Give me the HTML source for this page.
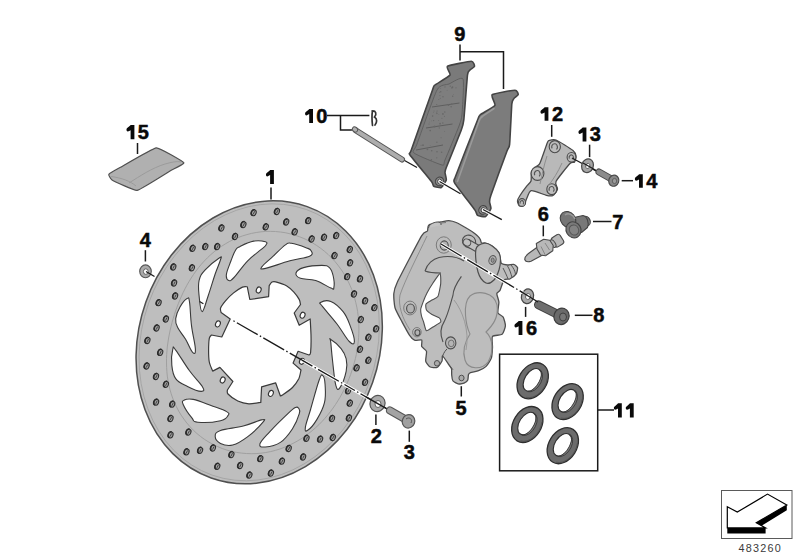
<!DOCTYPE html>
<html><head><meta charset="utf-8"><style>
html,body{margin:0;padding:0;background:#fff;}
svg{display:block;}
text{font-family:"Liberation Sans",sans-serif;font-weight:bold;font-size:20px;fill:#0a0a0a;stroke:#0a0a0a;stroke-width:0.5px;}
</style></head><body>
<svg width="800" height="560" viewBox="0 0 800 560">
<g id="disc">
<ellipse cx="259.2" cy="342.3" rx="120.3" ry="143.9" transform="rotate(19.5 259.2 342.3)" fill="#bebebe" stroke="#505050" stroke-width="1.5"/>
<ellipse cx="259.2" cy="342.3" rx="117.3" ry="140.9" transform="rotate(19.5 259.2 342.3)" fill="none" stroke="#a2a2a2" stroke-width="0.8"/>
<path d="M358.2,342.0 L357.7,346.2 L357.0,350.4 L356.3,354.5 L355.4,358.6 L354.3,362.7 L353.2,366.7 L351.9,370.7 L350.6,374.6 L349.1,378.5 L347.5,382.3 L345.8,386.1 L344.0,389.9 L342.0,393.6 L340.0,397.3 L337.8,400.9 L335.5,404.5 L333.1,408.0 L330.5,411.5 L327.8,414.9 L325.0,418.2 L322.0,421.5 L318.9,424.7 L315.6,427.7 L312.2,430.7 L308.6,433.5 L304.9,436.2 L301.1,438.8 L297.1,441.2 L293.0,443.4 L288.7,445.5 L284.4,447.3 L279.9,449.0 L275.3,450.4 L270.6,451.6 L265.8,452.5 L261.0,453.2 L256.1,453.6 L251.2,453.7 L246.3,453.5 L241.4,453.1 L236.5,452.4 L231.7,451.4 L226.9,450.1 L222.2,448.5 L217.7,446.6 L213.2,444.5 L208.9,442.1 L204.7,439.5 L200.7,436.6 L196.9,433.5 L193.3,430.2 L190.0,426.7 L186.8,423.0 L183.9,419.1 L181.2,415.2 L178.7,411.1 L176.5,406.9 L174.5,402.6 L172.7,398.2 L171.2,393.8 L169.9,389.4 L168.9,385.0 L168.0,380.5 L167.3,376.1 L166.9,371.7 L166.6,367.3 L166.5,363.0 L166.5,358.7 L166.7,354.4 L167.0,350.2 L167.4,346.1 L168.0,342.0 L168.6,338.0 L169.4,334.0 L170.2,330.0 L171.1,326.2 L172.1,322.3 L173.2,318.5 L174.4,314.7 L175.6,310.9 L177.0,307.2 L178.4,303.5 L179.9,299.8 L181.5,296.1 L183.2,292.4 L185.0,288.8 L186.9,285.2 L189.0,281.6 L191.2,278.0 L193.5,274.5 L196.0,271.0 L198.6,267.6 L201.3,264.3 L204.3,261.0 L207.4,257.8 L210.6,254.8 L214.1,251.8 L217.6,249.0 L221.4,246.4 L225.3,243.9 L229.3,241.6 L233.5,239.5 L237.9,237.6 L242.3,236.0 L246.9,234.6 L251.5,233.4 L256.2,232.5 L261.0,231.8 L265.8,231.4 L270.7,231.4 L275.5,231.5 L280.4,232.0 L285.2,232.7 L290.0,233.8 L294.7,235.1 L299.3,236.7 L303.9,238.5 L308.3,240.6 L312.6,242.9 L316.7,245.5 L320.7,248.3 L324.5,251.3 L328.2,254.5 L331.6,257.9 L334.9,261.4 L337.9,265.1 L340.7,268.9 L343.4,272.9 L345.8,276.9 L348.0,281.1 L350.0,285.3 L351.8,289.6 L353.3,293.9 L354.7,298.3 L355.8,302.7 L356.8,307.1 L357.6,311.5 L358.2,316.0 L358.6,320.4 L358.8,324.7 L358.9,329.1 L358.8,333.4 L358.6,337.7 Z" fill="none" stroke="#a0a0a0" stroke-width="1"/>
<path d="M265.4,241.8 C262.9,241.0 258.8,240.2 253.7,241.1 C248.6,242.0 243.7,244.6 240.1,246.4 C236.5,248.2 237.3,247.3 235.5,250.2 C233.7,253.1 232.8,255.9 231.0,260.8 C229.2,265.7 226.9,270.6 226.4,274.5 C225.9,278.4 227.2,279.9 228.7,280.5 C230.2,281.1 230.2,281.4 234.0,277.5 C237.8,273.6 242.2,266.4 247.7,260.8 C253.2,255.2 257.6,252.6 261.3,249.4 C265.0,246.2 265.2,246.5 266.0,245.0 C266.8,243.5 267.9,242.6 265.4,241.8 Z" fill="#fff" stroke="#3a3a3a" stroke-width="1.1"/>
<path d="M219.6,257.8 C222.6,255.8 221.3,256.7 220.4,260.0 C219.5,263.3 217.4,267.4 215.0,274.5 C212.6,281.6 210.8,288.3 208.2,295.7 C205.6,303.1 203.9,311.6 202.1,311.6 C200.3,311.6 199.7,301.9 199.1,295.7 C198.5,289.5 197.9,285.7 199.1,280.5 C200.3,275.3 201.1,274.4 205.2,269.9 C209.3,265.4 216.6,259.8 219.6,257.8 Z" fill="#fff" stroke="#3a3a3a" stroke-width="1.1"/>
<path d="M261.8,266.9 C263.3,264.5 268.5,260.6 273.2,256.2 C277.9,251.8 281.8,247.5 285.4,244.9 C289.0,242.3 287.2,242.7 291.4,243.3 C295.6,243.9 302.6,246.4 306.6,247.9 C310.6,249.4 310.6,249.2 311.2,250.9 C311.8,252.6 313.9,254.2 309.6,256.2 C305.3,258.2 298.7,258.4 289.9,260.8 C281.1,263.2 271.2,267.2 265.6,268.4 C260.0,269.6 260.3,269.3 261.8,266.9 Z" fill="#fff" stroke="#3a3a3a" stroke-width="1.1"/>
<path d="M296.0,273.0 C296.6,270.9 298.4,269.1 303.6,267.6 C308.8,266.1 316.6,265.4 321.8,265.4 C327.0,265.4 327.1,265.5 329.4,267.6 C331.7,269.7 332.3,272.0 333.2,276.0 C334.1,280.0 334.4,285.0 333.9,287.4 C333.4,289.8 334.5,289.5 330.9,288.1 C327.3,286.7 321.8,282.5 315.7,280.5 C309.6,278.5 304.4,279.8 300.5,278.3 C296.6,276.8 295.4,275.1 296.0,273.0 Z" fill="#fff" stroke="#3a3a3a" stroke-width="1.1"/>
<path d="M320.5,302.5 C322.1,301.5 326.3,299.6 330.8,301.4 C335.3,303.2 339.2,306.8 343.1,311.7 C347.0,316.6 348.0,320.1 350.3,326.1 C352.6,332.1 354.6,338.4 354.4,341.5 C354.2,344.6 352.8,345.0 349.3,341.5 C345.8,338.0 342.3,331.0 337.0,324.0 C331.7,317.0 325.9,310.9 322.6,306.6 C319.3,302.3 318.9,303.5 320.5,302.5 Z" fill="#fff" stroke="#3a3a3a" stroke-width="1.1"/>
<path d="M330.8,339.4 C332.9,340.6 338.0,344.7 341.1,348.6 C344.2,352.5 345.2,354.4 346.2,358.9 C347.2,363.4 347.4,365.5 346.2,371.2 C345.0,376.9 342.1,384.7 340.0,387.6 C337.9,390.5 337.3,390.5 335.9,385.6 C334.5,380.7 333.8,371.6 332.8,363.0 C331.8,354.4 331.2,347.2 330.8,342.5 C330.4,337.8 328.7,338.2 330.8,339.4 Z" fill="#fff" stroke="#3a3a3a" stroke-width="1.1"/>
<path d="M322.8,375.6 C324.0,376.5 324.8,379.2 325.1,384.7 C325.4,390.2 326.1,395.9 324.4,402.9 C322.7,409.9 320.1,414.1 316.8,419.6 C313.5,425.1 310.0,428.8 307.7,430.3 C305.4,431.8 304.8,431.5 305.4,427.2 C306.0,422.9 308.0,418.4 310.7,409.0 C313.4,399.6 316.7,386.9 319.1,380.2 C321.5,373.5 321.6,374.7 322.8,375.6 Z" fill="#fff" stroke="#3a3a3a" stroke-width="1.1"/>
<path d="M298.6,408.3 C299.4,409.5 300.5,409.5 299.3,413.6 C298.1,417.7 296.3,422.9 292.5,428.7 C288.7,434.5 285.9,438.7 280.4,442.4 C274.9,446.1 269.3,446.7 265.2,447.0 C261.1,447.3 259.0,446.9 259.9,443.9 C260.8,440.9 264.1,437.9 269.7,431.8 C275.3,425.7 282.7,418.5 287.9,413.6 C293.1,408.7 293.4,408.6 295.5,407.5 C297.6,406.4 297.8,407.1 298.6,408.3 Z" fill="#fff" stroke="#3a3a3a" stroke-width="1.1"/>
<path d="M215.2,436.6 C215.2,434.0 214.9,432.6 220.5,430.5 C226.1,428.4 235.1,428.1 243.3,426.0 C251.5,423.9 257.6,420.7 261.5,419.9 C265.4,419.1 265.7,418.9 263.0,422.2 C260.3,425.5 253.9,432.0 247.8,436.6 C241.7,441.2 238.2,443.6 232.7,445.0 C227.2,446.4 224.0,445.1 220.5,443.4 C217.0,441.7 215.2,439.2 215.2,436.6 Z" fill="#fff" stroke="#3a3a3a" stroke-width="1.1"/>
<path d="M184.1,400.2 C186.1,399.1 187.4,398.2 193.2,399.4 C199.0,400.6 206.2,403.8 212.9,406.2 C219.6,408.6 223.6,409.8 226.6,411.6 C229.6,413.4 229.3,413.6 228.1,415.4 C226.9,417.2 226.6,419.3 220.5,420.7 C214.4,422.1 203.6,422.8 197.8,422.2 C192.0,421.6 194.6,421.1 191.7,417.6 C188.8,414.1 184.8,408.2 183.3,404.7 C181.8,401.2 182.1,401.3 184.1,400.2 Z" fill="#fff" stroke="#3a3a3a" stroke-width="1.1"/>
<path d="M172.8,349.2 C172.0,352.2 171.2,359.0 171.8,364.9 C172.4,370.8 172.6,374.3 175.7,378.6 C178.8,382.9 182.4,383.9 187.5,386.5 C192.6,389.1 198.3,391.4 201.3,391.4 C204.3,391.4 204.7,390.6 202.3,386.5 C199.9,382.4 194.8,378.1 189.5,370.8 C184.2,363.5 179.0,354.4 175.7,350.1 C172.4,345.8 173.6,346.2 172.8,349.2 Z" fill="#fff" stroke="#3a3a3a" stroke-width="1.1"/>
<path d="M187.1,298.6 C185.2,299.6 182.3,303.1 180.0,307.1 C177.7,311.1 176.2,314.5 175.7,318.6 C175.2,322.7 175.7,323.4 177.7,327.5 C179.7,331.6 182.7,334.4 185.6,339.3 C188.5,344.2 190.4,350.1 192.4,352.1 C194.4,354.1 195.6,354.5 195.4,349.2 C195.2,343.9 192.7,335.0 191.5,325.6 C190.3,316.2 190.4,307.4 189.5,302.0 C188.6,296.6 189.0,297.6 187.1,298.6 Z" fill="#fff" stroke="#3a3a3a" stroke-width="1.1"/>
<path d="M221.1,312.5 C221.0,311.9 220.0,309.5 220.6,308.0 C221.2,306.5 223.8,302.9 225.5,300.9 C227.2,298.9 231.3,294.7 233.6,292.9 C235.9,291.1 240.7,287.9 242.5,287.1 C244.3,286.3 246.7,286.8 247.3,286.8 L249.8,299.5 L268.6,296.6 L269.2,285.5 C269.6,285.0 271.1,282.5 272.0,282.0 C272.9,281.5 273.8,281.3 275.7,281.8 C277.6,282.3 284.0,284.3 286.4,285.7 C288.8,287.1 292.2,290.2 293.9,292.1 C295.6,294.0 298.4,297.9 299.3,299.6 C300.2,301.3 300.3,303.8 300.5,304.5 L294.2,313.0 L299.2,325.3 L310.2,319.0 C310.3,321.1 310.9,330.5 311.0,335.0 C311.1,339.5 310.9,349.8 310.6,352.5 C310.3,355.2 309.2,354.7 309.0,355.0 L298.1,351.3 L293.1,363.1 L301.0,370.0 C300.7,371.2 299.9,376.4 298.8,378.8 C297.6,381.1 294.7,385.3 292.5,387.5 C290.3,389.7 284.1,393.9 282.5,395.0 C280.9,396.1 280.7,395.9 280.4,396.0 L275.6,382.8 L261.6,386.8 L260.8,402.4 C259.2,402.6 252.0,404.0 248.9,403.8 C245.8,403.6 240.6,402.3 237.8,401.0 C235.0,399.7 229.4,395.5 228.0,394.0 C226.6,392.5 227.5,390.5 227.4,390.0 L232.9,381.5 L219.9,367.4 L212.7,371.1 C212.2,369.9 209.8,364.7 209.3,362.0 C208.8,359.3 208.6,354.0 208.6,350.9 C208.6,347.8 208.9,340.5 209.3,338.4 C209.7,336.3 211.1,335.5 211.4,335.0 L221.8,337.0 L230.2,319.0 L221.1,312.5 Z" fill="#fff" stroke="#3a3a3a" stroke-width="1.2" stroke-linejoin="round"/>
<ellipse cx="258.7" cy="290" rx="2.3" ry="3.1" transform="rotate(25 258.7 290)" fill="#fff" stroke="#333" stroke-width="1.1"/>
<ellipse cx="302.6" cy="315.2" rx="2.3" ry="3.1" transform="rotate(25 302.6 315.2)" fill="#fff" stroke="#333" stroke-width="1.1"/>
<ellipse cx="301.9" cy="361.3" rx="2.3" ry="3.1" transform="rotate(25 301.9 361.3)" fill="#fff" stroke="#333" stroke-width="1.1"/>
<ellipse cx="270.9" cy="393.4" rx="2.3" ry="3.1" transform="rotate(25 270.9 393.4)" fill="#fff" stroke="#333" stroke-width="1.1"/>
<ellipse cx="222.7" cy="380" rx="2.3" ry="3.1" transform="rotate(25 222.7 380)" fill="#fff" stroke="#333" stroke-width="1.1"/>
<ellipse cx="217.9" cy="323.9" rx="2.3" ry="3.1" transform="rotate(25 217.9 323.9)" fill="#fff" stroke="#333" stroke-width="1.1"/>
<ellipse cx="253.7" cy="212.7" rx="2.4" ry="3.1" transform="rotate(20 253.7 212.7)" fill="#a0a0a0" stroke="#2e2e2e" stroke-width="1.05"/>
<path d="M254.8,209.8 A2.4,3.1 20 0 0 252.6,215.6" fill="none" stroke="#2a2a2a" stroke-width="1.5"/><path d="M253.2,214.3 L254.7,211.2" stroke="#3a3a3a" stroke-width="0.9"/>
<ellipse cx="277" cy="211.5" rx="2.4" ry="3.1" transform="rotate(20 277 211.5)" fill="#a0a0a0" stroke="#2e2e2e" stroke-width="1.05"/>
<path d="M278.1,208.6 A2.4,3.1 20 0 0 275.9,214.4" fill="none" stroke="#2a2a2a" stroke-width="1.5"/><path d="M276.5,213.1 L278.0,210.0" stroke="#3a3a3a" stroke-width="0.9"/>
<ellipse cx="243.5" cy="224.6" rx="2.4" ry="3.1" transform="rotate(20 243.5 224.6)" fill="#a0a0a0" stroke="#2e2e2e" stroke-width="1.05"/>
<path d="M244.6,221.7 A2.4,3.1 20 0 0 242.4,227.5" fill="none" stroke="#2a2a2a" stroke-width="1.5"/><path d="M243.0,226.2 L244.5,223.1" stroke="#3a3a3a" stroke-width="0.9"/>
<ellipse cx="221.5" cy="228" rx="2.4" ry="3.1" transform="rotate(20 221.5 228)" fill="#a0a0a0" stroke="#2e2e2e" stroke-width="1.05"/>
<path d="M222.6,225.1 A2.4,3.1 20 0 0 220.4,230.9" fill="none" stroke="#2a2a2a" stroke-width="1.5"/><path d="M221.0,229.6 L222.5,226.5" stroke="#3a3a3a" stroke-width="0.9"/>
<ellipse cx="265.9" cy="226.8" rx="2.4" ry="3.1" transform="rotate(20 265.9 226.8)" fill="#a0a0a0" stroke="#2e2e2e" stroke-width="1.05"/>
<path d="M267.0,223.9 A2.4,3.1 20 0 0 264.8,229.7" fill="none" stroke="#2a2a2a" stroke-width="1.5"/><path d="M265.4,228.4 L266.9,225.3" stroke="#3a3a3a" stroke-width="0.9"/>
<ellipse cx="286.3" cy="222" rx="2.4" ry="3.1" transform="rotate(20 286.3 222)" fill="#a0a0a0" stroke="#2e2e2e" stroke-width="1.05"/>
<path d="M287.4,219.1 A2.4,3.1 20 0 0 285.2,224.9" fill="none" stroke="#2a2a2a" stroke-width="1.5"/><path d="M285.8,223.6 L287.3,220.5" stroke="#3a3a3a" stroke-width="0.9"/>
<ellipse cx="308.3" cy="220.7" rx="2.4" ry="3.1" transform="rotate(20 308.3 220.7)" fill="#a0a0a0" stroke="#2e2e2e" stroke-width="1.05"/>
<path d="M309.4,217.8 A2.4,3.1 20 0 0 307.2,223.6" fill="none" stroke="#2a2a2a" stroke-width="1.5"/><path d="M307.8,222.3 L309.3,219.2" stroke="#3a3a3a" stroke-width="0.9"/>
<ellipse cx="235.1" cy="236.5" rx="2.4" ry="3.1" transform="rotate(20 235.1 236.5)" fill="#a0a0a0" stroke="#2e2e2e" stroke-width="1.05"/>
<path d="M236.2,233.6 A2.4,3.1 20 0 0 234.0,239.4" fill="none" stroke="#2a2a2a" stroke-width="1.5"/><path d="M234.6,238.1 L236.1,235.0" stroke="#3a3a3a" stroke-width="0.9"/>
<ellipse cx="294.8" cy="231.9" rx="2.4" ry="3.1" transform="rotate(20 294.8 231.9)" fill="#a0a0a0" stroke="#2e2e2e" stroke-width="1.05"/>
<path d="M295.9,229.0 A2.4,3.1 20 0 0 293.7,234.8" fill="none" stroke="#2a2a2a" stroke-width="1.5"/><path d="M294.3,233.5 L295.8,230.4" stroke="#3a3a3a" stroke-width="0.9"/>
<ellipse cx="311.7" cy="239" rx="2.4" ry="3.1" transform="rotate(20 311.7 239)" fill="#a0a0a0" stroke="#2e2e2e" stroke-width="1.05"/>
<path d="M312.8,236.1 A2.4,3.1 20 0 0 310.6,241.9" fill="none" stroke="#2a2a2a" stroke-width="1.5"/><path d="M311.2,240.6 L312.7,237.5" stroke="#3a3a3a" stroke-width="0.9"/>
<ellipse cx="324.1" cy="237.3" rx="2.4" ry="3.1" transform="rotate(20 324.1 237.3)" fill="#a0a0a0" stroke="#2e2e2e" stroke-width="1.05"/>
<path d="M325.2,234.4 A2.4,3.1 20 0 0 323.0,240.2" fill="none" stroke="#2a2a2a" stroke-width="1.5"/><path d="M323.6,238.9 L325.1,235.8" stroke="#3a3a3a" stroke-width="0.9"/>
<ellipse cx="336.3" cy="235.6" rx="2.4" ry="3.1" transform="rotate(20 336.3 235.6)" fill="#a0a0a0" stroke="#2e2e2e" stroke-width="1.05"/>
<path d="M337.4,232.7 A2.4,3.1 20 0 0 335.2,238.5" fill="none" stroke="#2a2a2a" stroke-width="1.5"/><path d="M335.8,237.2 L337.3,234.1" stroke="#3a3a3a" stroke-width="0.9"/>
<ellipse cx="192.7" cy="248.3" rx="2.4" ry="3.1" transform="rotate(20 192.7 248.3)" fill="#a0a0a0" stroke="#2e2e2e" stroke-width="1.05"/>
<path d="M193.8,245.4 A2.4,3.1 20 0 0 191.6,251.2" fill="none" stroke="#2a2a2a" stroke-width="1.5"/><path d="M192.2,249.9 L193.7,246.8" stroke="#3a3a3a" stroke-width="0.9"/>
<ellipse cx="205.4" cy="246.6" rx="2.4" ry="3.1" transform="rotate(20 205.4 246.6)" fill="#a0a0a0" stroke="#2e2e2e" stroke-width="1.05"/>
<path d="M206.5,243.7 A2.4,3.1 20 0 0 204.3,249.5" fill="none" stroke="#2a2a2a" stroke-width="1.5"/><path d="M204.9,248.2 L206.4,245.1" stroke="#3a3a3a" stroke-width="0.9"/>
<ellipse cx="217.3" cy="246.6" rx="2.4" ry="3.1" transform="rotate(20 217.3 246.6)" fill="#a0a0a0" stroke="#2e2e2e" stroke-width="1.05"/>
<path d="M218.4,243.7 A2.4,3.1 20 0 0 216.2,249.5" fill="none" stroke="#2a2a2a" stroke-width="1.5"/><path d="M216.8,248.2 L218.3,245.1" stroke="#3a3a3a" stroke-width="0.9"/>
<ellipse cx="349.9" cy="249.5" rx="2.4" ry="3.1" transform="rotate(20 349.9 249.5)" fill="#a0a0a0" stroke="#2e2e2e" stroke-width="1.05"/>
<path d="M351.0,246.6 A2.4,3.1 20 0 0 348.8,252.4" fill="none" stroke="#2a2a2a" stroke-width="1.5"/><path d="M349.4,251.1 L350.9,248.0" stroke="#3a3a3a" stroke-width="0.9"/>
<ellipse cx="334.6" cy="255.6" rx="2.4" ry="3.1" transform="rotate(20 334.6 255.6)" fill="#a0a0a0" stroke="#2e2e2e" stroke-width="1.05"/>
<path d="M335.7,252.7 A2.4,3.1 20 0 0 333.5,258.5" fill="none" stroke="#2a2a2a" stroke-width="1.5"/><path d="M334.1,257.2 L335.6,254.1" stroke="#3a3a3a" stroke-width="0.9"/>
<ellipse cx="350.2" cy="262.8" rx="2.4" ry="3.1" transform="rotate(20 350.2 262.8)" fill="#a0a0a0" stroke="#2e2e2e" stroke-width="1.05"/>
<path d="M351.3,259.9 A2.4,3.1 20 0 0 349.1,265.7" fill="none" stroke="#2a2a2a" stroke-width="1.5"/><path d="M349.7,264.4 L351.2,261.3" stroke="#3a3a3a" stroke-width="0.9"/>
<ellipse cx="347.3" cy="276.7" rx="2.4" ry="3.1" transform="rotate(20 347.3 276.7)" fill="#a0a0a0" stroke="#2e2e2e" stroke-width="1.05"/>
<path d="M348.4,273.8 A2.4,3.1 20 0 0 346.2,279.6" fill="none" stroke="#2a2a2a" stroke-width="1.5"/><path d="M346.8,278.3 L348.3,275.2" stroke="#3a3a3a" stroke-width="0.9"/>
<ellipse cx="360.1" cy="278.9" rx="2.4" ry="3.1" transform="rotate(20 360.1 278.9)" fill="#a0a0a0" stroke="#2e2e2e" stroke-width="1.05"/>
<path d="M361.2,276.0 A2.4,3.1 20 0 0 359.0,281.8" fill="none" stroke="#2a2a2a" stroke-width="1.5"/><path d="M359.6,280.5 L361.1,277.4" stroke="#3a3a3a" stroke-width="0.9"/>
<ellipse cx="354.1" cy="294" rx="2.4" ry="3.1" transform="rotate(20 354.1 294)" fill="#a0a0a0" stroke="#2e2e2e" stroke-width="1.05"/>
<path d="M355.2,291.1 A2.4,3.1 20 0 0 353.0,296.9" fill="none" stroke="#2a2a2a" stroke-width="1.5"/><path d="M353.6,295.6 L355.1,292.5" stroke="#3a3a3a" stroke-width="0.9"/>
<ellipse cx="173.4" cy="267" rx="2.4" ry="3.1" transform="rotate(20 173.4 267)" fill="#a0a0a0" stroke="#2e2e2e" stroke-width="1.05"/>
<path d="M174.5,264.1 A2.4,3.1 20 0 0 172.3,269.9" fill="none" stroke="#2a2a2a" stroke-width="1.5"/><path d="M172.9,268.6 L174.4,265.5" stroke="#3a3a3a" stroke-width="0.9"/>
<ellipse cx="192" cy="267.8" rx="2.4" ry="3.1" transform="rotate(20 192 267.8)" fill="#a0a0a0" stroke="#2e2e2e" stroke-width="1.05"/>
<path d="M193.1,264.9 A2.4,3.1 20 0 0 190.9,270.7" fill="none" stroke="#2a2a2a" stroke-width="1.5"/><path d="M191.5,269.4 L193.0,266.3" stroke="#3a3a3a" stroke-width="0.9"/>
<ellipse cx="174.2" cy="283" rx="2.4" ry="3.1" transform="rotate(20 174.2 283)" fill="#a0a0a0" stroke="#2e2e2e" stroke-width="1.05"/>
<path d="M175.3,280.1 A2.4,3.1 20 0 0 173.1,285.9" fill="none" stroke="#2a2a2a" stroke-width="1.5"/><path d="M173.7,284.6 L175.2,281.5" stroke="#3a3a3a" stroke-width="0.9"/>
<ellipse cx="175.2" cy="296" rx="2.4" ry="3.1" transform="rotate(20 175.2 296)" fill="#a0a0a0" stroke="#2e2e2e" stroke-width="1.05"/>
<path d="M176.3,293.1 A2.4,3.1 20 0 0 174.1,298.9" fill="none" stroke="#2a2a2a" stroke-width="1.5"/><path d="M174.7,297.6 L176.2,294.5" stroke="#3a3a3a" stroke-width="0.9"/>
<ellipse cx="158.7" cy="302.7" rx="2.4" ry="3.1" transform="rotate(20 158.7 302.7)" fill="#a0a0a0" stroke="#2e2e2e" stroke-width="1.05"/>
<path d="M159.8,299.8 A2.4,3.1 20 0 0 157.6,305.6" fill="none" stroke="#2a2a2a" stroke-width="1.5"/><path d="M158.2,304.3 L159.7,301.2" stroke="#3a3a3a" stroke-width="0.9"/>
<ellipse cx="166" cy="319" rx="2.4" ry="3.1" transform="rotate(20 166 319)" fill="#a0a0a0" stroke="#2e2e2e" stroke-width="1.05"/>
<path d="M167.1,316.1 A2.4,3.1 20 0 0 164.9,321.9" fill="none" stroke="#2a2a2a" stroke-width="1.5"/><path d="M165.5,320.6 L167.0,317.5" stroke="#3a3a3a" stroke-width="0.9"/>
<ellipse cx="156.7" cy="328" rx="2.4" ry="3.1" transform="rotate(20 156.7 328)" fill="#a0a0a0" stroke="#2e2e2e" stroke-width="1.05"/>
<path d="M157.8,325.1 A2.4,3.1 20 0 0 155.6,330.9" fill="none" stroke="#2a2a2a" stroke-width="1.5"/><path d="M156.2,329.6 L157.7,326.5" stroke="#3a3a3a" stroke-width="0.9"/>
<ellipse cx="147.5" cy="340.5" rx="2.4" ry="3.1" transform="rotate(20 147.5 340.5)" fill="#a0a0a0" stroke="#2e2e2e" stroke-width="1.05"/>
<path d="M148.6,337.6 A2.4,3.1 20 0 0 146.4,343.4" fill="none" stroke="#2a2a2a" stroke-width="1.5"/><path d="M147.0,342.1 L148.5,339.0" stroke="#3a3a3a" stroke-width="0.9"/>
<ellipse cx="160.3" cy="352.4" rx="2.4" ry="3.1" transform="rotate(20 160.3 352.4)" fill="#a0a0a0" stroke="#2e2e2e" stroke-width="1.05"/>
<path d="M161.4,349.5 A2.4,3.1 20 0 0 159.2,355.3" fill="none" stroke="#2a2a2a" stroke-width="1.5"/><path d="M159.8,354.0 L161.3,350.9" stroke="#3a3a3a" stroke-width="0.9"/>
<ellipse cx="146.7" cy="366" rx="2.4" ry="3.1" transform="rotate(20 146.7 366)" fill="#a0a0a0" stroke="#2e2e2e" stroke-width="1.05"/>
<path d="M147.8,363.1 A2.4,3.1 20 0 0 145.6,368.9" fill="none" stroke="#2a2a2a" stroke-width="1.5"/><path d="M146.2,367.6 L147.7,364.5" stroke="#3a3a3a" stroke-width="0.9"/>
<ellipse cx="156.1" cy="376.5" rx="2.4" ry="3.1" transform="rotate(20 156.1 376.5)" fill="#a0a0a0" stroke="#2e2e2e" stroke-width="1.05"/>
<path d="M157.2,373.6 A2.4,3.1 20 0 0 155.0,379.4" fill="none" stroke="#2a2a2a" stroke-width="1.5"/><path d="M155.6,378.1 L157.1,375.0" stroke="#3a3a3a" stroke-width="0.9"/>
<ellipse cx="166" cy="384.3" rx="2.4" ry="3.1" transform="rotate(20 166 384.3)" fill="#a0a0a0" stroke="#2e2e2e" stroke-width="1.05"/>
<path d="M167.1,381.4 A2.4,3.1 20 0 0 164.9,387.2" fill="none" stroke="#2a2a2a" stroke-width="1.5"/><path d="M165.5,385.9 L167.0,382.8" stroke="#3a3a3a" stroke-width="0.9"/>
<ellipse cx="156.2" cy="402.2" rx="2.4" ry="3.1" transform="rotate(20 156.2 402.2)" fill="#a0a0a0" stroke="#2e2e2e" stroke-width="1.05"/>
<path d="M157.3,399.3 A2.4,3.1 20 0 0 155.1,405.1" fill="none" stroke="#2a2a2a" stroke-width="1.5"/><path d="M155.7,403.8 L157.2,400.7" stroke="#3a3a3a" stroke-width="0.9"/>
<ellipse cx="172.3" cy="404.2" rx="2.4" ry="3.1" transform="rotate(20 172.3 404.2)" fill="#a0a0a0" stroke="#2e2e2e" stroke-width="1.05"/>
<path d="M173.4,401.3 A2.4,3.1 20 0 0 171.2,407.1" fill="none" stroke="#2a2a2a" stroke-width="1.5"/><path d="M171.8,405.8 L173.3,402.7" stroke="#3a3a3a" stroke-width="0.9"/>
<ellipse cx="170.6" cy="418.5" rx="2.4" ry="3.1" transform="rotate(20 170.6 418.5)" fill="#a0a0a0" stroke="#2e2e2e" stroke-width="1.05"/>
<path d="M171.7,415.6 A2.4,3.1 20 0 0 169.5,421.4" fill="none" stroke="#2a2a2a" stroke-width="1.5"/><path d="M170.1,420.1 L171.6,417.0" stroke="#3a3a3a" stroke-width="0.9"/>
<ellipse cx="170.6" cy="434.9" rx="2.4" ry="3.1" transform="rotate(20 170.6 434.9)" fill="#a0a0a0" stroke="#2e2e2e" stroke-width="1.05"/>
<path d="M171.7,432.0 A2.4,3.1 20 0 0 169.5,437.8" fill="none" stroke="#2a2a2a" stroke-width="1.5"/><path d="M170.1,436.5 L171.6,433.4" stroke="#3a3a3a" stroke-width="0.9"/>
<ellipse cx="188.5" cy="432.1" rx="2.4" ry="3.1" transform="rotate(20 188.5 432.1)" fill="#a0a0a0" stroke="#2e2e2e" stroke-width="1.05"/>
<path d="M189.6,429.2 A2.4,3.1 20 0 0 187.4,435.0" fill="none" stroke="#2a2a2a" stroke-width="1.5"/><path d="M188.0,433.7 L189.5,430.6" stroke="#3a3a3a" stroke-width="0.9"/>
<ellipse cx="186.6" cy="451.9" rx="2.4" ry="3.1" transform="rotate(20 186.6 451.9)" fill="#a0a0a0" stroke="#2e2e2e" stroke-width="1.05"/>
<path d="M187.7,449.0 A2.4,3.1 20 0 0 185.5,454.8" fill="none" stroke="#2a2a2a" stroke-width="1.5"/><path d="M186.1,453.5 L187.6,450.4" stroke="#3a3a3a" stroke-width="0.9"/>
<ellipse cx="200.2" cy="450.3" rx="2.4" ry="3.1" transform="rotate(20 200.2 450.3)" fill="#a0a0a0" stroke="#2e2e2e" stroke-width="1.05"/>
<path d="M201.3,447.4 A2.4,3.1 20 0 0 199.1,453.2" fill="none" stroke="#2a2a2a" stroke-width="1.5"/><path d="M199.7,451.9 L201.2,448.8" stroke="#3a3a3a" stroke-width="0.9"/>
<ellipse cx="213" cy="448" rx="2.4" ry="3.1" transform="rotate(20 213 448)" fill="#a0a0a0" stroke="#2e2e2e" stroke-width="1.05"/>
<path d="M214.1,445.1 A2.4,3.1 20 0 0 211.9,450.9" fill="none" stroke="#2a2a2a" stroke-width="1.5"/><path d="M212.5,449.6 L214.0,446.5" stroke="#3a3a3a" stroke-width="0.9"/>
<ellipse cx="231.5" cy="454.6" rx="2.4" ry="3.1" transform="rotate(20 231.5 454.6)" fill="#a0a0a0" stroke="#2e2e2e" stroke-width="1.05"/>
<path d="M232.6,451.7 A2.4,3.1 20 0 0 230.4,457.5" fill="none" stroke="#2a2a2a" stroke-width="1.5"/><path d="M231.0,456.2 L232.5,453.1" stroke="#3a3a3a" stroke-width="0.9"/>
<ellipse cx="217.4" cy="466.3" rx="2.4" ry="3.1" transform="rotate(20 217.4 466.3)" fill="#a0a0a0" stroke="#2e2e2e" stroke-width="1.05"/>
<path d="M218.5,463.4 A2.4,3.1 20 0 0 216.3,469.2" fill="none" stroke="#2a2a2a" stroke-width="1.5"/><path d="M216.9,467.9 L218.4,464.8" stroke="#3a3a3a" stroke-width="0.9"/>
<ellipse cx="240.2" cy="465.5" rx="2.4" ry="3.1" transform="rotate(20 240.2 465.5)" fill="#a0a0a0" stroke="#2e2e2e" stroke-width="1.05"/>
<path d="M241.3,462.6 A2.4,3.1 20 0 0 239.1,468.4" fill="none" stroke="#2a2a2a" stroke-width="1.5"/><path d="M239.7,467.1 L241.2,464.0" stroke="#3a3a3a" stroke-width="0.9"/>
<ellipse cx="249.5" cy="475.1" rx="2.4" ry="3.1" transform="rotate(20 249.5 475.1)" fill="#a0a0a0" stroke="#2e2e2e" stroke-width="1.05"/>
<path d="M250.6,472.2 A2.4,3.1 20 0 0 248.4,478.0" fill="none" stroke="#2a2a2a" stroke-width="1.5"/><path d="M249.0,476.7 L250.5,473.6" stroke="#3a3a3a" stroke-width="0.9"/>
<ellipse cx="260.4" cy="458.7" rx="2.4" ry="3.1" transform="rotate(20 260.4 458.7)" fill="#a0a0a0" stroke="#2e2e2e" stroke-width="1.05"/>
<path d="M261.5,455.8 A2.4,3.1 20 0 0 259.3,461.6" fill="none" stroke="#2a2a2a" stroke-width="1.5"/><path d="M259.9,460.3 L261.4,457.2" stroke="#3a3a3a" stroke-width="0.9"/>
<ellipse cx="348.2" cy="390.8" rx="2.4" ry="3.1" transform="rotate(20 348.2 390.8)" fill="#a0a0a0" stroke="#2e2e2e" stroke-width="1.05"/>
<path d="M349.3,387.9 A2.4,3.1 20 0 0 347.1,393.7" fill="none" stroke="#2a2a2a" stroke-width="1.5"/><path d="M347.7,392.4 L349.2,389.3" stroke="#3a3a3a" stroke-width="0.9"/>
<ellipse cx="349.9" cy="403.2" rx="2.4" ry="3.1" transform="rotate(20 349.9 403.2)" fill="#a0a0a0" stroke="#2e2e2e" stroke-width="1.05"/>
<path d="M351.0,400.3 A2.4,3.1 20 0 0 348.8,406.1" fill="none" stroke="#2a2a2a" stroke-width="1.5"/><path d="M349.4,404.8 L350.9,401.7" stroke="#3a3a3a" stroke-width="0.9"/>
<ellipse cx="332.1" cy="418.5" rx="2.4" ry="3.1" transform="rotate(20 332.1 418.5)" fill="#a0a0a0" stroke="#2e2e2e" stroke-width="1.05"/>
<path d="M333.2,415.6 A2.4,3.1 20 0 0 331.0,421.4" fill="none" stroke="#2a2a2a" stroke-width="1.5"/><path d="M331.6,420.1 L333.1,417.0" stroke="#3a3a3a" stroke-width="0.9"/>
<ellipse cx="349" cy="418" rx="2.4" ry="3.1" transform="rotate(20 349 418)" fill="#a0a0a0" stroke="#2e2e2e" stroke-width="1.05"/>
<path d="M350.1,415.1 A2.4,3.1 20 0 0 347.9,420.9" fill="none" stroke="#2a2a2a" stroke-width="1.5"/><path d="M348.5,419.6 L350.0,416.5" stroke="#3a3a3a" stroke-width="0.9"/>
<ellipse cx="306.6" cy="438.3" rx="2.4" ry="3.1" transform="rotate(20 306.6 438.3)" fill="#a0a0a0" stroke="#2e2e2e" stroke-width="1.05"/>
<path d="M307.7,435.4 A2.4,3.1 20 0 0 305.5,441.2" fill="none" stroke="#2a2a2a" stroke-width="1.5"/><path d="M306.1,439.9 L307.6,436.8" stroke="#3a3a3a" stroke-width="0.9"/>
<ellipse cx="320.2" cy="439.2" rx="2.4" ry="3.1" transform="rotate(20 320.2 439.2)" fill="#a0a0a0" stroke="#2e2e2e" stroke-width="1.05"/>
<path d="M321.3,436.3 A2.4,3.1 20 0 0 319.1,442.1" fill="none" stroke="#2a2a2a" stroke-width="1.5"/><path d="M319.7,440.8 L321.2,437.7" stroke="#3a3a3a" stroke-width="0.9"/>
<ellipse cx="332.9" cy="437.5" rx="2.4" ry="3.1" transform="rotate(20 332.9 437.5)" fill="#a0a0a0" stroke="#2e2e2e" stroke-width="1.05"/>
<path d="M334.0,434.6 A2.4,3.1 20 0 0 331.8,440.4" fill="none" stroke="#2a2a2a" stroke-width="1.5"/><path d="M332.4,439.1 L333.9,436.0" stroke="#3a3a3a" stroke-width="0.9"/>
<ellipse cx="288.8" cy="448.5" rx="2.4" ry="3.1" transform="rotate(20 288.8 448.5)" fill="#a0a0a0" stroke="#2e2e2e" stroke-width="1.05"/>
<path d="M289.9,445.6 A2.4,3.1 20 0 0 287.7,451.4" fill="none" stroke="#2a2a2a" stroke-width="1.5"/><path d="M288.3,450.1 L289.8,447.0" stroke="#3a3a3a" stroke-width="0.9"/>
<ellipse cx="303.2" cy="457" rx="2.4" ry="3.1" transform="rotate(20 303.2 457)" fill="#a0a0a0" stroke="#2e2e2e" stroke-width="1.05"/>
<path d="M304.3,454.1 A2.4,3.1 20 0 0 302.1,459.9" fill="none" stroke="#2a2a2a" stroke-width="1.5"/><path d="M302.7,458.6 L304.2,455.5" stroke="#3a3a3a" stroke-width="0.9"/>
<ellipse cx="282" cy="461.2" rx="2.4" ry="3.1" transform="rotate(20 282 461.2)" fill="#a0a0a0" stroke="#2e2e2e" stroke-width="1.05"/>
<path d="M283.1,458.3 A2.4,3.1 20 0 0 280.9,464.1" fill="none" stroke="#2a2a2a" stroke-width="1.5"/><path d="M281.5,462.8 L283.0,459.7" stroke="#3a3a3a" stroke-width="0.9"/>
<ellipse cx="271" cy="473.1" rx="2.4" ry="3.1" transform="rotate(20 271 473.1)" fill="#a0a0a0" stroke="#2e2e2e" stroke-width="1.05"/>
<path d="M272.1,470.2 A2.4,3.1 20 0 0 269.9,476.0" fill="none" stroke="#2a2a2a" stroke-width="1.5"/><path d="M270.5,474.7 L272.0,471.6" stroke="#3a3a3a" stroke-width="0.9"/>
<ellipse cx="365.2" cy="300.9" rx="2.4" ry="3.1" transform="rotate(20 365.2 300.9)" fill="#a0a0a0" stroke="#2e2e2e" stroke-width="1.05"/>
<path d="M366.3,298.0 A2.4,3.1 20 0 0 364.1,303.8" fill="none" stroke="#2a2a2a" stroke-width="1.5"/><path d="M364.7,302.5 L366.2,299.4" stroke="#3a3a3a" stroke-width="0.9"/>
<ellipse cx="374.5" cy="307.7" rx="2.4" ry="3.1" transform="rotate(20 374.5 307.7)" fill="#a0a0a0" stroke="#2e2e2e" stroke-width="1.05"/>
<path d="M375.6,304.8 A2.4,3.1 20 0 0 373.4,310.6" fill="none" stroke="#2a2a2a" stroke-width="1.5"/><path d="M374.0,309.3 L375.5,306.2" stroke="#3a3a3a" stroke-width="0.9"/>
<ellipse cx="360.9" cy="319.6" rx="2.4" ry="3.1" transform="rotate(20 360.9 319.6)" fill="#a0a0a0" stroke="#2e2e2e" stroke-width="1.05"/>
<path d="M362.0,316.7 A2.4,3.1 20 0 0 359.8,322.5" fill="none" stroke="#2a2a2a" stroke-width="1.5"/><path d="M360.4,321.2 L361.9,318.1" stroke="#3a3a3a" stroke-width="0.9"/>
<ellipse cx="376.2" cy="328.9" rx="2.4" ry="3.1" transform="rotate(20 376.2 328.9)" fill="#a0a0a0" stroke="#2e2e2e" stroke-width="1.05"/>
<path d="M377.3,326.0 A2.4,3.1 20 0 0 375.1,331.8" fill="none" stroke="#2a2a2a" stroke-width="1.5"/><path d="M375.7,330.5 L377.2,327.4" stroke="#3a3a3a" stroke-width="0.9"/>
<ellipse cx="368.5" cy="337.4" rx="2.4" ry="3.1" transform="rotate(20 368.5 337.4)" fill="#a0a0a0" stroke="#2e2e2e" stroke-width="1.05"/>
<path d="M369.6,334.5 A2.4,3.1 20 0 0 367.4,340.3" fill="none" stroke="#2a2a2a" stroke-width="1.5"/><path d="M368.0,339.0 L369.5,335.9" stroke="#3a3a3a" stroke-width="0.9"/>
<ellipse cx="360.1" cy="349.3" rx="2.4" ry="3.1" transform="rotate(20 360.1 349.3)" fill="#a0a0a0" stroke="#2e2e2e" stroke-width="1.05"/>
<path d="M361.2,346.4 A2.4,3.1 20 0 0 359.0,352.2" fill="none" stroke="#2a2a2a" stroke-width="1.5"/><path d="M359.6,350.9 L361.1,347.8" stroke="#3a3a3a" stroke-width="0.9"/>
<ellipse cx="368.5" cy="360.3" rx="2.4" ry="3.1" transform="rotate(20 368.5 360.3)" fill="#a0a0a0" stroke="#2e2e2e" stroke-width="1.05"/>
<path d="M369.6,357.4 A2.4,3.1 20 0 0 367.4,363.2" fill="none" stroke="#2a2a2a" stroke-width="1.5"/><path d="M368.0,361.9 L369.5,358.8" stroke="#3a3a3a" stroke-width="0.9"/>
<ellipse cx="356.7" cy="367.9" rx="2.4" ry="3.1" transform="rotate(20 356.7 367.9)" fill="#a0a0a0" stroke="#2e2e2e" stroke-width="1.05"/>
<path d="M357.8,365.0 A2.4,3.1 20 0 0 355.6,370.8" fill="none" stroke="#2a2a2a" stroke-width="1.5"/><path d="M356.2,369.5 L357.7,366.4" stroke="#3a3a3a" stroke-width="0.9"/>
<ellipse cx="365.2" cy="382.3" rx="2.4" ry="3.1" transform="rotate(20 365.2 382.3)" fill="#a0a0a0" stroke="#2e2e2e" stroke-width="1.05"/>
<path d="M366.3,379.4 A2.4,3.1 20 0 0 364.1,385.2" fill="none" stroke="#2a2a2a" stroke-width="1.5"/><path d="M364.7,383.9 L366.2,380.8" stroke="#3a3a3a" stroke-width="0.9"/>
<line x1="199.6" y1="301.6" x2="203.4" y2="303.8" stroke="#1a1a1a" stroke-width="1.2"/>
<line x1="233.4" y1="320.7" x2="302" y2="360.1" stroke="#1a1a1a" stroke-width="1.3" stroke-dasharray="1.5,2.5,24,2.5"/>
<line x1="302" y1="360.1" x2="369" y2="398.6" stroke="#fff" stroke-width="3.2"/>
<line x1="302" y1="360.1" x2="369" y2="398.6" stroke="#1a1a1a" stroke-width="1.3" stroke-dasharray="12,2.5,1.5,2.5,24,2.5,1.5,2.5"/>
<line x1="366" y1="396.9" x2="389" y2="410" stroke="#1a1a1a" stroke-width="1.3"/>
</g>
<path d="M108.8,174.3 C109.2,173.7 117.6,168.8 120.0,167.5 C122.4,166.2 153.1,148.0 156.3,147.8 C159.5,147.6 183.2,161.5 183.9,162.7 C184.6,163.9 172.3,169.6 170.0,171.0 C167.7,172.4 139.9,190.0 137.0,190.4 C134.1,190.8 113.4,180.8 112.0,180.0 C110.6,179.2 108.4,174.9 108.8,174.3 Z" fill="#b0b0b0" stroke="#505050" stroke-width="1.2" stroke-linejoin="round"/>
<path d="M111,176.5 C122,178 130,181 136,186 M129,183 C140,176 152,168 165,164 C172,162 177,161 181,162" fill="none" stroke="#999" stroke-width="0.9"/>
<path d="M447.5,66.3 C449.3,65.2 469.1,61.3 471.3,61.3 C473.6,61.3 474.6,65.6 474.5,66.3 C474.4,67.0 470.6,69.3 470.0,70.0 C469.4,70.7 468.0,70.8 467.5,75.0 C467.0,79.2 464.3,115.4 463.8,120.0 C463.3,124.6 462.8,126.0 461.3,130.0 C459.8,134.0 447.7,164.0 446.3,167.5 C444.9,171.0 445.0,171.5 445.0,172.5 C445.0,173.5 446.6,178.8 446.3,180.0 C446.0,181.2 442.3,187.0 441.3,187.5 C440.3,188.0 434.6,186.8 433.8,186.3 C433.0,185.8 433.3,183.9 431.3,181.3 C429.3,178.7 411.7,157.6 410.0,155.0 C408.3,152.4 409.4,155.4 411.3,150.0 C413.2,144.6 430.5,95.4 432.5,90.0 C434.5,84.6 433.5,86.2 435.0,85.0 C436.5,83.8 449.0,76.6 450.0,75.0 C451.0,73.4 445.7,67.4 447.5,66.3 Z" fill="#7a7a7a" stroke="#444" stroke-width="1.6" stroke-linejoin="round"/>
<path d="M437.0,90.0 C440.2,84.0 446.4,85.1 449.0,84.0 C451.6,82.9 461.7,76.0 463.0,79.0 C464.3,82.0 462.4,109.3 462.0,114.0 C461.6,118.7 460.7,121.4 459.0,126.0 C457.3,130.6 446.7,156.1 445.0,160.0 C443.3,163.9 445.1,165.7 442.0,165.0 C438.9,164.3 416.5,155.1 414.0,153.0 C411.5,150.9 414.7,150.3 417.0,144.0 C419.3,137.7 433.8,96.0 437.0,90.0 Z" fill="#7e7e7e" stroke="#5e5e5e" stroke-width="0.9" stroke-linejoin="round"/>
<path d="M432,107 L459.5,103 M426,128 L452.5,124 M416,150 L443,145" stroke="#5a5a5a" stroke-width="0.9" fill="none"/>
<g fill="#686868"><circle cx="443.0" cy="96.8" r="0.73"/><circle cx="429.0" cy="124.0" r="0.58"/><circle cx="429.3" cy="122.1" r="0.42"/><circle cx="447.1" cy="90.2" r="0.45"/><circle cx="430.1" cy="145.6" r="0.46"/><circle cx="430.2" cy="130.5" r="0.87"/><circle cx="442.9" cy="113.9" r="0.89"/><circle cx="421.1" cy="145.3" r="0.54"/><circle cx="439.9" cy="95.6" r="0.55"/><circle cx="452.7" cy="96.2" r="0.69"/><circle cx="444.8" cy="112.0" r="0.67"/><circle cx="439.6" cy="92.3" r="0.50"/><circle cx="444.5" cy="116.2" r="0.56"/><circle cx="441.9" cy="118.2" r="0.55"/><circle cx="441.1" cy="137.8" r="0.52"/><circle cx="440.1" cy="123.7" r="0.84"/><circle cx="448.5" cy="105.1" r="0.89"/><circle cx="432.6" cy="116.1" r="0.78"/><circle cx="431.7" cy="120.9" r="0.42"/><circle cx="436.9" cy="142.3" r="0.69"/><circle cx="451.1" cy="106.7" r="0.75"/><circle cx="439.3" cy="127.9" r="0.63"/><circle cx="436.8" cy="157.8" r="0.64"/><circle cx="452.1" cy="87.8" r="0.75"/><circle cx="431.4" cy="159.9" r="0.81"/><circle cx="436.9" cy="113.6" r="0.73"/><circle cx="429.6" cy="119.0" r="0.48"/><circle cx="440.7" cy="91.8" r="0.78"/><circle cx="436.7" cy="104.5" r="0.60"/><circle cx="456.0" cy="87.8" r="0.62"/><circle cx="431.7" cy="150.7" r="0.81"/><circle cx="451.6" cy="103.9" r="0.61"/><circle cx="427.4" cy="149.3" r="0.88"/><circle cx="438.8" cy="99.6" r="0.52"/><circle cx="433.6" cy="120.6" r="0.69"/><circle cx="445.0" cy="86.9" r="0.61"/><circle cx="434.7" cy="126.5" r="0.88"/><circle cx="442.8" cy="123.0" r="0.71"/><circle cx="452.5" cy="87.1" r="0.85"/><circle cx="437.0" cy="151.7" r="0.80"/><circle cx="438.9" cy="114.4" r="0.45"/><circle cx="451.4" cy="88.1" r="0.43"/><circle cx="440.3" cy="98.3" r="0.57"/><circle cx="440.7" cy="88.5" r="0.48"/><circle cx="433.5" cy="112.4" r="0.41"/><circle cx="444.6" cy="131.2" r="0.47"/><circle cx="437.1" cy="111.0" r="0.58"/><circle cx="423.0" cy="145.2" r="0.90"/><circle cx="438.6" cy="120.5" r="0.44"/><circle cx="434.0" cy="111.0" r="0.53"/><circle cx="453.4" cy="94.6" r="0.41"/><circle cx="448.1" cy="124.3" r="0.47"/><circle cx="450.3" cy="86.2" r="0.66"/><circle cx="441.6" cy="152.2" r="0.75"/><circle cx="436.8" cy="112.3" r="0.48"/></g>
<path d="M492.2,94.7 C493.9,93.4 512.8,90.2 515.0,90.2 C517.2,90.2 518.3,94.0 518.2,94.7 C518.1,95.4 514.2,98.0 513.7,98.8 C513.2,99.6 512.1,100.3 511.8,104.1 C511.5,107.9 510.0,140.4 509.6,144.3 C509.2,148.2 508.6,146.8 507.0,151.0 C505.4,155.2 492.3,191.0 490.9,195.2 C489.4,199.4 489.6,200.8 489.6,201.9 C489.6,203.0 491.2,207.4 490.9,208.6 C490.6,209.8 486.6,216.0 485.5,216.6 C484.4,217.2 478.4,215.9 477.5,215.3 C476.6,214.7 476.7,212.6 474.8,209.9 C472.9,207.2 456.3,185.9 454.7,183.1 C453.1,180.3 453.6,181.6 455.5,176.4 C457.4,171.2 475.4,125.3 477.5,120.2 C479.6,115.1 478.8,116.0 480.2,114.8 C481.6,113.6 493.9,107.1 494.9,105.4 C495.9,103.7 490.5,96.0 492.2,94.7 Z" fill="#7c7c7c" stroke="#444" stroke-width="1.6" stroke-linejoin="round"/>
<path d="M457.5,181.5 L478.5,122.5 C479.5,119 481,117 483.5,115.5 L494,108.5" fill="none" stroke="#9a9a9a" stroke-width="1.6" stroke-linecap="round"/>
<ellipse cx="439.5" cy="181.3" rx="4" ry="4.4" transform="rotate(30 439.5 181.3)" fill="#8c8c8c" stroke="#444" stroke-width="1.1"/>
<ellipse cx="439.7" cy="181.5" rx="2" ry="2.4" fill="#fff" stroke="#333" stroke-width="0.9"/>
<ellipse cx="482.9" cy="209.9" rx="4" ry="4.4" transform="rotate(30 482.9 209.9)" fill="#8c8c8c" stroke="#444" stroke-width="1.1"/>
<ellipse cx="483.1" cy="210.1" rx="2" ry="2.4" fill="#fff" stroke="#333" stroke-width="0.9"/>
<g stroke="#fff" stroke-width="3"><line x1="439.5" y1="181.5" x2="447" y2="185.8"/><line x1="483" y1="209.5" x2="490" y2="213.4"/></g>
<g stroke="#1a1a1a" stroke-width="1.3"><line x1="401" y1="158.5" x2="417" y2="167.5"/><line x1="439.5" y1="181.5" x2="460.5" y2="193.7"/><line x1="483" y1="209.5" x2="501.8" y2="219.6"/></g>
<line x1="356" y1="130.5" x2="402" y2="159.5" stroke="#555" stroke-width="6" stroke-linecap="round"/>
<line x1="356" y1="130.5" x2="402" y2="159.5" stroke="#adadad" stroke-width="4" stroke-linecap="round"/>
<ellipse cx="355" cy="129.5" rx="2.8" ry="2.4" transform="rotate(32 355 129.5)" fill="#b0b0b0" stroke="#555" stroke-width="1"/>
<path d="M372,111 C376,110.5 377,114 374.5,117 C377.5,119 377,122.5 375,125 M372.5,111 C371.5,116 372,121 372.5,125.5" fill="none" stroke="#333" stroke-width="1.7" stroke-linecap="round"/>
<path d="M549.0,140.5 C550.0,140.2 553.2,138.8 556.0,140.0 C558.8,141.2 570.7,148.6 573.0,150.5 C575.3,152.4 575.8,154.7 576.0,156.0 C576.2,157.3 575.2,161.1 574.5,162.0 C573.8,162.9 572.2,161.2 570.0,163.5 C567.8,165.8 557.5,178.5 556.0,181.5 C554.5,184.5 557.9,187.4 557.5,189.0 C557.1,190.6 554.3,194.8 553.0,195.5 C551.7,196.2 548.9,195.9 546.4,195.3 C543.9,194.7 533.6,190.3 531.3,190.7 C529.0,191.1 527.4,197.3 526.5,199.0 C525.6,200.7 524.8,204.7 524.0,205.5 C523.2,206.3 520.3,206.5 519.5,206.0 C518.7,205.5 517.4,202.2 517.5,201.0 C517.6,199.8 518.9,197.2 520.0,195.5 C521.1,193.8 525.4,187.9 526.7,186.2 C528.0,184.5 530.4,182.7 531.0,181.0 C531.6,179.3 530.8,173.8 531.5,172.0 C532.2,170.2 536.0,167.1 537.0,166.0 C538.0,164.9 538.8,165.7 540.0,163.0 C541.2,160.3 546.2,145.6 547.2,143.0 C548.2,140.4 548.0,140.8 549.0,140.5 Z" fill="#b9b9b9" stroke="#4a4a4a" stroke-width="1.3" stroke-linejoin="round"/>
<ellipse cx="554.8" cy="146.7" rx="5.6" ry="6.05" fill="#bdbdbd" stroke="#4a4a4a" stroke-width="1.1"/>
<path d="M552.0,148.4 A2.8,3.36 0 1 1 556.5,149.5" fill="none" stroke="#555" stroke-width="1.1"/>
<ellipse cx="571.5" cy="157.3" rx="4.4" ry="4.75" fill="#bdbdbd" stroke="#4a4a4a" stroke-width="1.1"/>
<path d="M569.3,158.6 A2.2,2.64 0 1 1 572.8,159.5" fill="none" stroke="#555" stroke-width="1.1"/>
<ellipse cx="537.5" cy="173.5" rx="6.4" ry="6.91" fill="#bdbdbd" stroke="#4a4a4a" stroke-width="1.1"/>
<path d="M534.7,175.2 A2.8,3.36 0 1 1 539.2,176.3" fill="none" stroke="#555" stroke-width="1.1"/>
<ellipse cx="551.8" cy="189.2" rx="5" ry="5.40" fill="#bdbdbd" stroke="#4a4a4a" stroke-width="1.1"/>
<path d="M549.3,190.7 A2.5,3.00 0 1 1 553.3,191.7" fill="none" stroke="#555" stroke-width="1.1"/>
<ellipse cx="522" cy="202.5" rx="3.6" ry="3.89" fill="#bdbdbd" stroke="#4a4a4a" stroke-width="1.1"/>
<path d="M520.2,203.6 A1.8,2.16 0 1 1 523.1,204.3" fill="none" stroke="#555" stroke-width="1.1"/>
<path d="M547,156 C544,165 542,175 540,184 M562,163 C558,172 553,180 548,186" fill="none" stroke="#8e8e8e" stroke-width="1"/>
<line x1="572" y1="158" x2="597" y2="171.5" stroke="#1a1a1a" stroke-width="1.3"/>
<ellipse cx="587.5" cy="165.7" rx="5.8" ry="7" transform="rotate(20 587.5 165.7)" fill="#a5a5a5" stroke="#4a4a4a" stroke-width="1.2"/>
<ellipse cx="587.8" cy="166" rx="2" ry="2.6" transform="rotate(20 587.8 166)" fill="#fff" stroke="#555" stroke-width="0.8"/>
<line x1="583" y1="163" x2="598" y2="171.5" stroke="#1a1a1a" stroke-width="1.1"/>
<line x1="599" y1="172" x2="611" y2="178.8" stroke="#4c4c4c" stroke-width="7" stroke-linecap="round"/>
<line x1="599" y1="172" x2="611" y2="178.8" stroke="#8c8c8c" stroke-width="5" stroke-linecap="round"/>
<ellipse cx="613.8" cy="180.7" rx="5" ry="5.6" transform="rotate(20 613.8 180.7)" fill="#888" stroke="#4a4a4a" stroke-width="1.2"/>
<ellipse cx="614.5" cy="181" rx="2.2" ry="2.6" fill="#999" stroke="#555" stroke-width="0.8"/>
<path d="M524.8,259.8 C524.5,257.5 526,255.5 528.5,253.5 L537.5,247 L543.5,254.5 L531,261.3 C528.5,262 525.5,261.8 524.8,259.8 Z" fill="#b8b8b8" stroke="#4a4a4a" stroke-width="1.1" stroke-linejoin="round"/>
<g transform="translate(557.6 240.7) rotate(-32)"><rect x="-5" y="-5.4" width="10" height="10.8" rx="2.5" fill="#b8b8b8" stroke="#4a4a4a" stroke-width="1.1"/><ellipse cx="-5.5" cy="0" rx="2.3" ry="4.3" fill="#b0b0b0" stroke="#4a4a4a" stroke-width="1"/></g>
<path d="M536.3,243.6 L543.7,239.3 L549.8,240.2 L553.2,245.5 L552.8,250.8 L545.5,255.8 L540.5,255 L537,249 Z" fill="#b8b8b8" stroke="#4a4a4a" stroke-width="1.1" stroke-linejoin="round"/>
<path d="M541,246.5 L545.5,255.5 M545,243 L549.5,250" stroke="#7a7a7a" stroke-width="0.8" fill="none"/>
<ellipse cx="586" cy="221.2" rx="4.2" ry="5" transform="rotate(-25 586 221.2)" fill="#7a7a7a" stroke="#444" stroke-width="1.1"/>
<path d="M574,217.5 L583,215.5 C587,216 589.5,223 587.5,227.5 L581.5,232.5 L575,233 Z" fill="#787878" stroke="#444" stroke-width="1.1" stroke-linejoin="round"/>
<ellipse cx="568" cy="219.5" rx="7.2" ry="8.6" transform="rotate(-40 568 219.5)" fill="#767676" stroke="#444" stroke-width="1.1"/>
<path d="M565,215 C568,212.5 573,214 575,219" stroke="#9a9a9a" stroke-width="1.6" fill="none"/>
<ellipse cx="573.5" cy="229.8" rx="7.4" ry="8.2" transform="rotate(-30 573.5 229.8)" fill="#7a7a7a" stroke="#444" stroke-width="1.1"/>
<ellipse cx="574" cy="230" rx="4.6" ry="5.2" transform="rotate(-30 574 230)" fill="#838383" stroke="#555" stroke-width="0.9"/>
<ellipse cx="527.5" cy="296.3" rx="6" ry="7.4" transform="rotate(15 527.5 296.3)" fill="#a8a8a8" stroke="#454545" stroke-width="1.2"/>
<ellipse cx="528" cy="296.5" rx="2.4" ry="3" transform="rotate(15 528 296.5)" fill="#fff" stroke="#555" stroke-width="0.8"/>
<line x1="538.5" y1="304.8" x2="556" y2="313.5" stroke="#3e3e3e" stroke-width="9" stroke-linecap="round"/>
<line x1="538.5" y1="304.8" x2="556" y2="313.5" stroke="#6e6e6e" stroke-width="7" stroke-linecap="round"/>
<ellipse cx="561.5" cy="316.3" rx="7.5" ry="8.3" transform="rotate(20 561.5 316.3)" fill="#6a6a6a" stroke="#3e3e3e" stroke-width="1.2"/>
<ellipse cx="563" cy="317" rx="3.5" ry="4" fill="#777" stroke="#3a3a3a" stroke-width="0.9"/>
<ellipse cx="377.5" cy="403.5" rx="7.5" ry="8.2" transform="rotate(20 377.5 403.5)" fill="#ababab" stroke="#555" stroke-width="1.2"/>
<ellipse cx="378" cy="404" rx="3" ry="3.5" fill="#fff" stroke="#555" stroke-width="0.9"/>
<line x1="369" y1="398.6" x2="390" y2="410.6" stroke="#1a1a1a" stroke-width="1.3"/>
<line x1="390" y1="410.5" x2="404" y2="418.5" stroke="#555" stroke-width="8" stroke-linecap="round"/>
<line x1="390" y1="410.5" x2="404" y2="418.5" stroke="#a3a3a3" stroke-width="6" stroke-linecap="round"/>
<ellipse cx="408.5" cy="421.3" rx="6.2" ry="6.8" transform="rotate(20 408.5 421.3)" fill="#a0a0a0" stroke="#555" stroke-width="1.2"/>
<path d="M406,419 C409,416.5 413,419 411,423" fill="none" stroke="#555" stroke-width="1"/>
<ellipse cx="145.5" cy="271.3" rx="5.8" ry="6.4" fill="#a9a9a9" stroke="#555" stroke-width="1.1"/>
<ellipse cx="145.8" cy="271.6" rx="2.4" ry="2.8" fill="#fff" stroke="#555" stroke-width="0.9"/>
<line x1="146" y1="271.5" x2="154.5" y2="276.5" stroke="#1a1a1a" stroke-width="1.3"/>
<rect x="499.6" y="354.2" width="98.1" height="116.6" fill="none" stroke="#1a1a1a" stroke-width="1.5"/>
<g transform="translate(532.7 380.8) rotate(-58)"><ellipse rx="19.3" ry="14" fill="#6c6c6c" stroke="#2e2e2e" stroke-width="1.3"/><path d="M-17.5,3 A17.8,12.5 0 0 0 10,11" fill="none" stroke="#505050" stroke-width="0.8"/><ellipse cx="0.6" cy="-0.8" rx="12.4" ry="7.6" fill="#fff" stroke="#2e2e2e" stroke-width="1.1"/><path d="M-11.8,1.5 A12.4,7.6 0 0 0 13,-0.8 A12,5.4 0 0 1 -11.8,1.5 Z" fill="#7a7a7a" stroke="#3a3a3a" stroke-width="0.8"/></g>
<g transform="translate(567.6 401.6) rotate(-58)"><ellipse rx="19.3" ry="14" fill="#6c6c6c" stroke="#2e2e2e" stroke-width="1.3"/><path d="M-17.5,3 A17.8,12.5 0 0 0 10,11" fill="none" stroke="#505050" stroke-width="0.8"/><ellipse cx="0.6" cy="-0.8" rx="12.4" ry="7.6" fill="#fff" stroke="#2e2e2e" stroke-width="1.1"/><path d="M-11.8,1.5 A12.4,7.6 0 0 0 13,-0.8 A12,5.4 0 0 1 -11.8,1.5 Z" fill="#7a7a7a" stroke="#3a3a3a" stroke-width="0.8"/></g>
<g transform="translate(527.3 424.5) rotate(-58)"><ellipse rx="19.3" ry="14" fill="#6c6c6c" stroke="#2e2e2e" stroke-width="1.3"/><path d="M-17.5,3 A17.8,12.5 0 0 0 10,11" fill="none" stroke="#505050" stroke-width="0.8"/><ellipse cx="0.6" cy="-0.8" rx="12.4" ry="7.6" fill="#fff" stroke="#2e2e2e" stroke-width="1.1"/><path d="M-11.8,1.5 A12.4,7.6 0 0 0 13,-0.8 A12,5.4 0 0 1 -11.8,1.5 Z" fill="#7a7a7a" stroke="#3a3a3a" stroke-width="0.8"/></g>
<g transform="translate(562.8 445.7) rotate(-58)"><ellipse rx="19.3" ry="14" fill="#6c6c6c" stroke="#2e2e2e" stroke-width="1.3"/><path d="M-17.5,3 A17.8,12.5 0 0 0 10,11" fill="none" stroke="#505050" stroke-width="0.8"/><ellipse cx="0.6" cy="-0.8" rx="12.4" ry="7.6" fill="#fff" stroke="#2e2e2e" stroke-width="1.1"/><path d="M-11.8,1.5 A12.4,7.6 0 0 0 13,-0.8 A12,5.4 0 0 1 -11.8,1.5 Z" fill="#7a7a7a" stroke="#3a3a3a" stroke-width="0.8"/></g>
<rect x="721.5" y="490.5" width="70.5" height="48" fill="#fff" stroke="#5a5a5a" stroke-width="1"/>
<path d="M786.8,505 L786.8,510.2 L761,526 L765.6,527.9 L765.6,533.5 L727.3,533.5 L727.3,527.9 Z" fill="#000"/>
<path d="M727.3,506.7 L737.3,512.1 L767.5,494.1 L786.8,505 L756.3,522.7 L765.6,527.9 L727.3,527.9 Z" fill="#fff" stroke="#000" stroke-width="1.2" stroke-linejoin="miter"/>
<text x="738.6" y="551.7" style="font-weight:normal;font-size:10.8px;letter-spacing:1.25px;fill:#3a3a3a;stroke:none">483260</text>
<path d="M428.8,225.0 C430.1,224.1 439.2,222.3 441.2,221.9 C443.2,221.5 447.2,220.5 448.8,220.6 C450.2,220.7 454.4,221.7 456.2,222.5 C458.1,223.3 465.6,227.6 467.5,228.8 C469.4,229.9 473.8,232.8 475.0,233.8 C476.2,234.8 479.4,237.8 480.0,238.8 C480.6,239.7 481.0,242.6 481.5,243.0 C482.0,243.4 483.9,242.8 485.0,243.1 C486.1,243.4 491.1,245.3 492.5,246.2 C493.9,247.2 497.9,251.1 498.8,252.5 C499.6,253.9 500.2,258.9 500.5,260.0 C500.8,261.1 500.8,263.0 501.5,263.5 C502.2,264.0 506.3,264.9 507.5,265.0 C508.7,265.1 512.8,264.1 513.8,264.4 C514.8,264.6 517.2,266.6 517.5,267.5 C517.8,268.4 517.0,272.6 516.2,273.8 C515.5,274.9 511.2,278.1 510.0,278.8 C508.8,279.4 505.0,278.8 504.0,280.0 C503.0,281.2 500.7,289.0 500.0,290.4 C499.3,291.8 496.9,292.4 496.8,293.6 C496.7,294.8 498.8,300.2 498.9,302.1 C499.0,304.0 497.5,311.4 497.9,312.9 C498.3,314.4 502.4,315.8 503.2,317.1 C503.9,318.4 505.5,324.0 505.4,325.7 C505.3,327.4 503.4,333.2 502.1,334.3 C500.8,335.4 493.5,335.1 492.5,336.4 C491.5,337.7 492.6,345.0 492.5,347.1 C492.4,349.2 492.0,356.0 491.4,357.9 C490.8,359.8 487.4,365.1 486.1,366.4 C484.8,367.7 480.2,370.1 478.6,370.7 C477.0,371.3 471.5,372.2 470.5,372.6 C469.5,373.0 468.8,373.8 468.5,374.5 C468.2,375.2 468.2,379.1 467.8,380.0 C467.4,380.9 465.0,382.8 464.0,383.2 C463.0,383.6 459.2,384.0 458.1,383.8 C457.0,383.6 453.6,381.9 453.0,381.0 C452.4,380.1 451.8,376.2 451.7,375.0 C451.6,373.8 451.8,370.0 451.5,368.9 C451.2,367.8 449.5,365.6 448.6,364.3 C447.7,363.0 443.3,356.3 442.6,356.0 C441.9,355.7 442.6,359.9 442.0,361.0 C441.4,362.1 438.2,366.9 437.0,367.5 C435.8,368.1 430.8,367.3 429.7,366.7 C428.6,366.1 426.0,362.6 425.7,361.1 C425.4,359.6 426.9,352.8 426.5,351.4 C426.1,349.9 422.2,347.7 421.7,346.6 C421.2,345.5 422.4,340.6 421.7,340.0 C421.0,339.4 415.7,340.7 414.5,340.2 C413.3,339.7 410.9,337.3 409.6,335.4 C408.3,333.5 403.4,324.4 401.9,321.6 C400.4,318.8 395.8,310.5 395.0,307.7 C394.2,304.9 393.6,296.4 393.8,293.8 C394.0,291.2 394.5,288.0 397.3,282.2 C400.1,276.4 418.6,241.0 421.6,235.9 C424.6,230.8 426.7,232.1 427.4,231.0 C428.1,229.9 427.4,225.9 428.8,225.0 Z" fill="#bdbdbd" stroke="#4e4e4e" stroke-width="1.3" stroke-linejoin="round"/>
<path d="M440.0,273.6 C439.2,273.5 434.3,281.1 433.0,283.0 C431.7,284.9 427.9,291.2 427.0,293.0 C426.1,294.8 424.2,299.1 423.6,300.7 C423.0,302.3 420.9,307.8 420.7,309.3 C420.5,310.8 421.2,314.7 421.5,316.0 C421.8,317.3 423.1,320.5 423.6,322.0 C424.1,323.5 425.5,330.2 426.4,330.7 C427.3,331.2 431.6,327.9 433.0,327.0 C434.4,326.1 440.1,322.9 440.7,322.0 C441.3,321.1 440.2,318.6 439.3,317.9 C438.4,317.1 433.3,315.3 432.0,314.5 C430.7,313.7 427.1,311.1 426.5,310.0 C425.9,308.9 425.4,305.0 426.0,304.0 C426.6,303.0 430.8,300.8 432.0,300.0 C433.2,299.2 437.0,298.0 437.9,296.4 C438.8,294.8 440.5,285.9 440.7,283.6 C440.9,281.3 440.8,273.7 440.0,273.6 Z" fill="#fff" stroke="#4e4e4e" stroke-width="1.1"/>
<path d="M429,226 C434,224 440,223 446,222.5" fill="none" stroke="#7a7a7a" stroke-width="1"/>
<ellipse cx="469" cy="241.5" rx="6.8" ry="6.2" transform="rotate(30 469 241.5)" fill="#bdbdbd" stroke="#4e4e4e" stroke-width="1.1"/>
<line x1="467" y1="242.5" x2="480" y2="250" stroke="#4e4e4e" stroke-width="8"/><line x1="467" y1="242.5" x2="480" y2="250" stroke="#c2c2c2" stroke-width="6"/>
<ellipse cx="467" cy="242.5" rx="3.9" ry="3.4" transform="rotate(30 467 242.5)" fill="#c2c2c2" stroke="#4e4e4e" stroke-width="1"/>
<path d="M428.5,228 C429,224.5 433,222.5 437,222 C440,221.8 441.5,223 441,225" fill="#c4c4c4" stroke="#4e4e4e" stroke-width="1"/>
<path d="M476.0,249.0 C477.2,244.2 482.2,243.6 485.0,243.1 C487.8,242.6 490.2,244.7 492.5,246.2 C494.8,247.8 497.4,250.2 498.8,252.5 C500.1,254.8 500.5,257.1 500.5,260.0 C500.5,262.9 500.1,266.7 499.0,270.0 C497.9,273.3 496.2,277.8 494.0,280.0 C491.8,282.2 488.7,284.3 486.0,283.0 C483.3,281.7 479.7,277.7 478.0,272.0 C476.3,266.3 474.8,253.8 476.0,249.0 Z" fill="#bdbdbd" stroke="#4e4e4e" stroke-width="1.2"/>
<ellipse cx="492.5" cy="260" rx="3.5" ry="4.6" transform="rotate(20 492.5 260)" fill="#b0b0b0" stroke="#555" stroke-width="1"/>
<ellipse cx="492.7" cy="260.2" rx="1.5" ry="2.2" fill="#999" stroke="#555" stroke-width="0.8"/>
<path d="M503,268 C505,272 507,276 508,279 M507.5,266 C510,270 511,274 512,277.5 M511,265 C513.5,268 515,271 515.5,274" stroke="#555" stroke-width="1" fill="none"/>
<ellipse cx="443.75" cy="245" rx="7.5" ry="8.2" fill="none" stroke="#7a7a7a" stroke-width="1"/>
<ellipse cx="444.25" cy="245.5" rx="4" ry="4.6" fill="#b3b3b3" stroke="#4e4e4e" stroke-width="1.1"/>
<ellipse cx="410" cy="308" rx="6.3" ry="6.9" fill="none" stroke="#7a7a7a" stroke-width="1"/>
<ellipse cx="410.5" cy="308.5" rx="3.9" ry="4.5" fill="#b3b3b3" stroke="#4e4e4e" stroke-width="1.1"/>
<ellipse cx="416.9" cy="332.2" rx="4.3" ry="4.7" fill="none" stroke="#7a7a7a" stroke-width="1"/>
<ellipse cx="417.4" cy="332.7" rx="2.5" ry="2.9" fill="#b3b3b3" stroke="#4e4e4e" stroke-width="1.1"/>
<path d="M427,236 C418,255 405,280 400,295 C398,305 402,318 410,330" fill="none" stroke="#8e8e8e" stroke-width="1"/>
<path d="M425,271 C427,264 433,259 439,257.5 C446,256 456,256 464,261" fill="none" stroke="#4e4e4e" stroke-width="1.1"/>
<path d="M425,271 C430,273 436,273 441,273" fill="none" stroke="#4e4e4e" stroke-width="1.1"/>
<path d="M461.4,276.4 C456,284 453,292 452.9,295.7 C450,305 448.6,312.9 444.3,321.4 C440,328 440,335 443,342" fill="none" stroke="#4e4e4e" stroke-width="1.1"/>
<path d="M470,296 C478,290 494,292 497,305 C499,318 492,326 486,332 C493,338 494,352 488,362 C482,370 468,370 465,360 C462,350 466,340 470,334 C466,326 462,304 470,296 Z" fill="none" stroke="#8a8a8a" stroke-width="1.1"/>
<path d="M454,300 C462,310 470,330 466,350" fill="none" stroke="#9a9a9a" stroke-width="1"/>
<ellipse cx="450.7" cy="342.9" rx="5.2" ry="6" fill="#b5b5b5" stroke="#4e4e4e" stroke-width="1.1"/>
<ellipse cx="451.2" cy="343.4" rx="2.8" ry="3.3" fill="none" stroke="#6a6a6a" stroke-width="0.9"/>
<ellipse cx="437" cy="363.3" rx="2.6" ry="2.8" fill="#aaa" stroke="#4e4e4e" stroke-width="1"/>
<ellipse cx="461.5" cy="378" rx="2.6" ry="2.8" fill="#aaa" stroke="#4e4e4e" stroke-width="1"/>
<path d="M448,364 L452.9,369.6 M442.6,356 C444,352 446,350 447,349" fill="none" stroke="#4e4e4e" stroke-width="1"/>
<line x1="441" y1="244" x2="523" y2="292.8" stroke="#fff" stroke-width="3.2"/>
<line x1="441" y1="244" x2="523" y2="292.8" stroke="#1a1a1a" stroke-width="1.3" stroke-dasharray="24,2.5,1.5,2.5"/>
<line x1="520" y1="291" x2="538" y2="302" stroke="#1a1a1a" stroke-width="1.3"/>
<g id="leaders" stroke="#1a1a1a" stroke-width="1.5">
<line x1="271" y1="187.5" x2="271" y2="199.5"/>
<line x1="145.4" y1="250.2" x2="145.4" y2="261.5"/>
<line x1="375.9" y1="414.5" x2="375.9" y2="425"/>
<line x1="409.3" y1="430.6" x2="409.3" y2="441.8"/>
<line x1="461.3" y1="386.2" x2="461.3" y2="396.5"/>
<line x1="543.3" y1="225.5" x2="543.3" y2="236.3"/>
<line x1="593" y1="221.5" x2="611.5" y2="221.5"/>
<line x1="574.8" y1="315.3" x2="592.5" y2="315.3"/>
<line x1="525.6" y1="306.9" x2="525.6" y2="316.9"/>
<line x1="598" y1="410" x2="614" y2="410"/>
<line x1="551.7" y1="125" x2="551.7" y2="136.8"/>
<line x1="589.6" y1="144.7" x2="589.6" y2="157.1"/>
<line x1="621.7" y1="180.7" x2="633" y2="180.7"/>
<line x1="137.5" y1="143" x2="137.5" y2="154"/>
<polyline points="460,44.5 460,60.5" fill="none"/>
<polyline points="460,51.8 503.5,51.8 503.5,89" fill="none"/>
<polyline points="327,115.6 369.4,115.6" fill="none"/>
<polyline points="340.5,115.6 340.5,130 351.9,130" fill="none"/>
</g>
<g id="labels">
<text x="376.25" y="442.6" text-anchor="middle">2</text>
<text x="409.35" y="458.7" text-anchor="middle">3</text>
<text x="145.35" y="247" text-anchor="middle">4</text>
<text x="461" y="414.6" text-anchor="middle">5</text>
<text x="543.35" y="221.1" text-anchor="middle">6</text>
<text x="617.85" y="229" text-anchor="middle">7</text>
<text x="598.7" y="321.9" text-anchor="middle">8</text>
<text x="459.7" y="41.2" text-anchor="middle">9</text>
<text x="321.8" y="123" text-anchor="middle">0</text>
<text x="557.5" y="120.8" text-anchor="middle">2</text>
<text x="595.4" y="141.4" text-anchor="middle">3</text>
<text x="651.8" y="187.8" text-anchor="middle">4</text>
<text x="143.3" y="139.2" text-anchor="middle">5</text>
<text x="531.6" y="335" text-anchor="middle">6</text>
<path d="M273.9,169.9 L273.9,183.9 L270.1,183.9 L270.1,175.1 C269.3,175.7 268.3,176.3 267.3,176.4 C266.3,176.4 265.8,175.1 266.0,174.2 C266.2,173.2 267.1,172.6 267.9,172.0 C268.9,171.2 269.6,170.4 270.2,169.9 Z" fill="#0a0a0a"/>
<path d="M313.0,108.9 L313.0,122.9 L309.2,122.9 L309.2,114.1 C308.4,114.7 307.4,115.3 306.4,115.4 C305.4,115.4 304.9,114.1 305.1,113.2 C305.3,112.2 306.2,111.6 307.0,111.0 C308.0,110.2 308.7,109.4 309.3,108.9 Z" fill="#0a0a0a"/>
<path d="M621.8,403.3 L621.8,417.5 L618.0,417.5 L618.0,408.5 C617.2,409.1 616.2,409.7 615.2,409.8 C614.2,409.8 613.7,408.5 613.9,407.6 C614.1,406.6 615.0,406.0 615.8,405.4 C616.8,404.6 617.5,403.8 618.1,403.3 Z" fill="#0a0a0a"/>
<path d="M633.7,403.3 L633.7,417.5 L629.9,417.5 L629.9,408.5 C629.1,409.1 628.1,409.7 627.1,409.8 C626.1,409.8 625.6,408.5 625.8,407.6 C626.0,406.6 626.9,406.0 627.7,405.4 C628.7,404.6 629.4,403.8 630.0,403.3 Z" fill="#0a0a0a"/>
<path d="M548.4,107.2 L548.4,120.8 L544.6,120.8 L544.6,112.4 C543.8,113.0 542.8,113.6 541.8,113.7 C540.8,113.7 540.3,112.4 540.5,111.5 C540.7,110.5 541.6,109.9 542.4,109.3 C543.4,108.5 544.1,107.7 544.7,107.2 Z" fill="#0a0a0a"/>
<path d="M586.4,127.4 L586.4,141.4 L582.6,141.4 L582.6,132.6 C581.8,133.2 580.8,133.8 579.8,133.9 C578.8,133.9 578.3,132.6 578.5,131.7 C578.7,130.7 579.6,130.1 580.4,129.5 C581.4,128.7 582.1,127.9 582.7,127.4 Z" fill="#0a0a0a"/>
<path d="M642.8,174.2 L642.8,187.8 L639.0,187.8 L639.0,179.4 C638.2,180.0 637.2,180.6 636.2,180.7 C635.2,180.7 634.7,179.4 634.9,178.5 C635.1,177.5 636.0,176.9 636.8,176.3 C637.8,175.5 638.5,174.7 639.1,174.2 Z" fill="#0a0a0a"/>
<path d="M134.4,125.0 L134.4,139.2 L130.6,139.2 L130.6,130.2 C129.8,130.8 128.8,131.4 127.8,131.5 C126.8,131.5 126.3,130.2 126.5,129.3 C126.7,128.3 127.6,127.7 128.4,127.1 C129.4,126.3 130.1,125.5 130.7,125.0 Z" fill="#0a0a0a"/>
<path d="M522.4,321.0 L522.4,335.0 L518.6,335.0 L518.6,326.2 C517.8,326.8 516.8,327.4 515.8,327.5 C514.8,327.5 514.3,326.2 514.5,325.3 C514.7,324.3 515.6,323.7 516.4,323.1 C517.4,322.3 518.1,321.5 518.7,321.0 Z" fill="#0a0a0a"/>
</g>
</svg>
</body></html>
